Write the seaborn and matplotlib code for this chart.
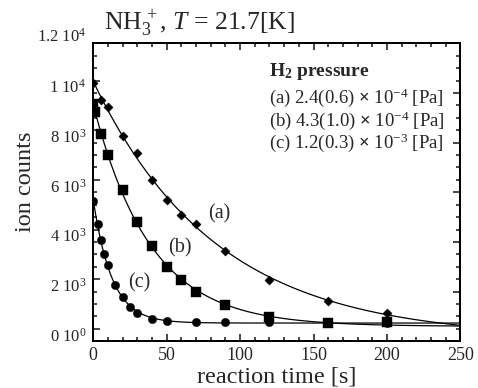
import numpy as np
import matplotlib
matplotlib.use('Agg')
import matplotlib.pyplot as plt
import matplotlib.transforms as mtransforms
import seaborn as sns
from matplotlib.ticker import MultipleLocator, FuncFormatter

# reaction time [s] / ion counts
time_a = [0, 5, 10, 20, 30, 40, 50, 60, 70, 90, 120, 160, 200]
counts_a = [9900, 9200, 8950, 7780, 7100, 5980, 5170, 4580, 4230, 3150, 1960, 1140, 650]

time_b = [0, 1, 5, 10, 20, 30, 40, 50, 60, 70, 90, 120, 160, 200]
counts_b = [9050, 8750, 7860, 6990, 5590, 4300, 3320, 2490, 1950, 1480, 970, 470, 230, 270]

time_c = [0, 3, 5, 7, 10, 15, 20, 25, 30, 40, 50, 70, 90, 120, 160, 200]
counts_c = [5150, 4210, 3560, 3030, 2590, 1760, 1280, 875, 620, 390, 310, 270, 270, 295, 250, 230]

curve_labels = ['(a)', '(b)', '(c)']
pressure_labels = [r'(a) 2.4(0.6) $\mathbf{\times}$ 10$^{-4}$ [Pa]',
                   r'(b) 4.3(1.0) $\mathbf{\times}$ 10$^{-4}$ [Pa]',
                   r'(c) 1.2(0.3) $\mathbf{\times}$ 10$^{-3}$ [Pa]']
markers = ['D', 's', 'o']
marker_sizes = [22, 50, 36]


def fit_decay(t, y):
    # y = A exp(-k t) + C, grid over k, linear least squares for A and C
    t = np.asarray(t, float)
    y = np.asarray(y, float)
    best = None
    for k in np.linspace(0.002, 0.3, 3000):
        X = np.column_stack([np.exp(-k * t), np.ones_like(t)])
        coef = np.linalg.lstsq(X, y, rcond=None)[0]
        err = np.sum((X @ coef - y) ** 2)
        if best is None or err < best[0]:
            best = (err, k, coef)
    return best[1], best[2]


def sci_label(v, pos=None):
    if v == 0:
        return r'0 10$^{0}$'
    e = int(np.floor(np.log10(abs(v)) + 1e-9))
    return f'{v / 10 ** e:g} 10$^{{{e}}}$'


sns.set_theme(style='ticks')
plt.rcParams['font.family'] = ['Liberation Serif', 'DejaVu Serif']
plt.rcParams['mathtext.fontset'] = 'custom'
plt.rcParams['mathtext.rm'] = 'Liberation Serif'
plt.rcParams['mathtext.it'] = 'Liberation Serif:italic'
plt.rcParams['mathtext.bf'] = 'Liberation Serif:bold'

fig = plt.figure(figsize=(4.78, 3.88), dpi=100)
ax = fig.add_axes([0.1952, 0.1204, 0.7678, 0.768])

series = [(time_a, counts_a), (time_b, counts_b), (time_c, counts_c)]
tt = np.linspace(0, 250, 500)
for (t, y), m, s in zip(series, markers, marker_sizes):
    k, (A, C) = fit_decay(t, y)
    sns.lineplot(x=tt, y=A * np.exp(-k * tt) + C, color='black', lw=0.9, ax=ax)
    sns.scatterplot(x=t, y=y, marker=m, s=s, color='black', edgecolor='black',
                    linewidth=0.3, ax=ax, zorder=3)

ax.set_xlim(0, 250)
ax.set_ylim(-500, 11500)
ax.xaxis.set_major_locator(MultipleLocator(50))
ax.xaxis.set_minor_locator(MultipleLocator(10))
ax.yaxis.set_major_locator(MultipleLocator(2000))
ax.yaxis.set_minor_locator(MultipleLocator(500))
ax.yaxis.set_major_formatter(FuncFormatter(sci_label))
ax.tick_params(which='both', direction='in', top=True, right=False, width=1.2)
ax.tick_params(which='major', length=5)
ax.tick_params(which='minor', length=3)
ax.tick_params(axis='x', labelsize=13, pad=4)
ax.tick_params(axis='y', labelsize=12, pad=5)

# y tick labels sit a little below their ticks in the original
down = mtransforms.ScaledTranslation(0, -4 / 72, fig.dpi_scale_trans)
for lab in ax.get_yticklabels():
    lab.set_transform(lab.get_transform() + down)
# 1.2 10^4 label sits above the frame, as in the original
ax.annotate(sci_label(12000), xy=(0, 12000), xycoords=('axes fraction', 'data'),
            xytext=(-5, -4), textcoords='offset points', ha='right', va='center',
            fontsize=12, annotation_clip=False)

# right-hand frame has its own 0..12000 scale
ax2 = ax.twinx()
ax2.set_ylim(0, 12000)
ax2.yaxis.set_major_locator(MultipleLocator(2000))
ax2.yaxis.set_minor_locator(MultipleLocator(500))
ax2.tick_params(which='both', direction='in', right=True, left=False,
                labelright=False, width=1.2)
ax2.tick_params(which='major', length=5)
ax2.tick_params(which='minor', length=3)

for a in (ax, ax2):
    for sp in a.spines.values():
        sp.set_linewidth(1.4)
        sp.set_color('black')

ax.set_xlabel('reaction time [s]', fontsize=17.5, labelpad=2)
ax.set_ylabel('ion counts', fontsize=17.5)
ax.yaxis.set_label_coords(-0.155, 0.535)

ax.text(0.03, 1.047, r'NH$_3^{\,+}$, $T$ = 21.7[K]', transform=ax.transAxes,
        fontsize=18.5, va='baseline', ha='left')

ax.text(0.48, 0.89, r'H$_\mathbf{2}$ pressure', transform=ax.transAxes,
        fontsize=14, fontweight='bold', va='baseline')
for lab, yy in zip(pressure_labels, [0.80, 0.722, 0.65]):
    ax.text(0.48, yy, lab, transform=ax.transAxes, fontsize=13.5, va='baseline')

for lab, (xx, yy) in zip(curve_labels, [(0.342, 0.427), (0.236, 0.312), (0.126, 0.195)]):
    ax.text(xx, yy, lab, transform=ax.transAxes, fontsize=14.5, ha='center', va='center')

plt.savefig('out.png', dpi=100)
plt.close()
